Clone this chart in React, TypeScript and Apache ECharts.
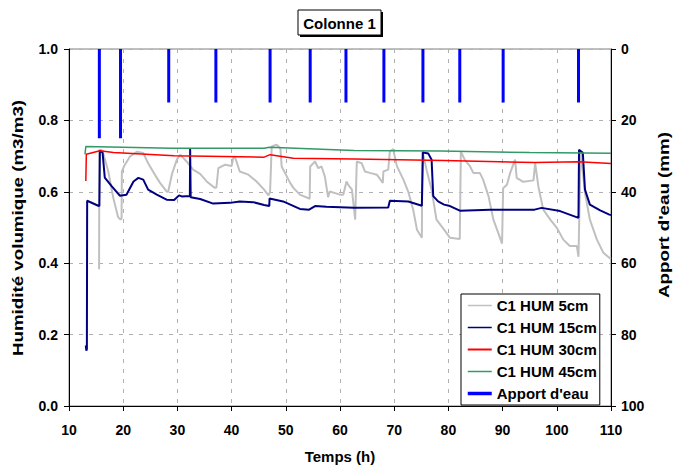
import React, { useEffect, useRef } from "react";
import * as echarts from "echarts";

// Rain events (time in h, amount in mm)
const rainTimes = [15.6, 19.5, 28.4, 37.1, 47.1, 54.5, 61.1, 68.1, 75.3, 82.1, 90.1, 104.0];
const rainAmounts = [25, 25, 15, 15, 15, 15, 15, 15, 15, 15, 15, 15];

// C1 HUM 5cm  [time h, m3/m3]
const hum5: [number, number][] = [
  [15.55, 0.383], [15.6, 0.718], [16.2, 0.715], [17.25, 0.657], [18.17, 0.583], [19.04, 0.53],
  [19.5, 0.522], [19.7, 0.525], [19.75, 0.657], [20.3, 0.676], [21.25, 0.699], [22.5, 0.712],
  [23.7, 0.709], [24.6, 0.68], [26.2, 0.639], [26.8, 0.625], [28.0, 0.601], [28.3, 0.6],
  [29.0, 0.65], [29.9, 0.69], [30.5, 0.704], [31.7, 0.685], [32.9, 0.662], [34.2, 0.65],
  [35.4, 0.629], [36.9, 0.611], [37.2, 0.612], [37.55, 0.666], [38.8, 0.676], [40.0, 0.672],
  [40.3, 0.694], [40.6, 0.699], [41.5, 0.657], [43.1, 0.648], [44.6, 0.629], [46.0, 0.606],
  [46.8, 0.59], [47.1, 0.6], [47.4, 0.727], [48.3, 0.732], [49.0, 0.722], [49.24, 0.671],
  [50.8, 0.625], [51.4, 0.611], [52.6, 0.592], [54.2, 0.582], [54.4, 0.58], [54.5, 0.671],
  [55.4, 0.685], [56.0, 0.666], [56.6, 0.671], [57.2, 0.643], [57.8, 0.585], [58.1, 0.601],
  [60.0, 0.592], [60.6, 0.592], [61.2, 0.629], [61.5, 0.62], [62.2, 0.606], [62.8, 0.522],
  [63.1, 0.685], [64.0, 0.68], [64.6, 0.657], [65.5, 0.653], [66.8, 0.648], [67.9, 0.625],
  [68.0, 0.657], [68.9, 0.662], [69.2, 0.713], [69.8, 0.72], [70.5, 0.672], [71.7, 0.634],
  [72.6, 0.6], [73.5, 0.55], [74.2, 0.494], [75.1, 0.471], [75.2, 0.715], [76.0, 0.66],
  [76.9, 0.606], [77.8, 0.522], [79.2, 0.494], [80.3, 0.471], [82.1, 0.468], [82.3, 0.713],
  [83.0, 0.69], [84.0, 0.671], [84.6, 0.653], [85.8, 0.653], [86.4, 0.634], [87.4, 0.588],
  [88.3, 0.522], [89.2, 0.485], [89.9, 0.455], [90.1, 0.61], [90.8, 0.62], [91.4, 0.653],
  [92.3, 0.69], [92.6, 0.639], [93.8, 0.628], [95.7, 0.632], [96.0, 0.68], [96.6, 0.615],
  [97.5, 0.55], [98.8, 0.522], [100.0, 0.499], [101.2, 0.466], [102.4, 0.448], [103.7, 0.448],
  [104.0, 0.418], [104.4, 0.715], [105.2, 0.597], [106.1, 0.522], [107.4, 0.466], [108.6, 0.429],
  [109.7, 0.415], [110.0, 0.412],
];

// C1 HUM 15cm
const hum15: [number, number][] = [
  [13.1, 0.17], [13.2, 0.155], [13.3, 0.16], [13.35, 0.575], [15.4, 0.561], [15.6, 0.56],
  [15.7, 0.716], [16.2, 0.709], [16.6, 0.64], [17.9, 0.615], [19.4, 0.589], [20.6, 0.592],
  [21.9, 0.629], [22.8, 0.639], [23.7, 0.634], [24.6, 0.606], [26.2, 0.592], [28.0, 0.578],
  [29.4, 0.577], [30.3, 0.59], [30.8, 0.587], [32.3, 0.588], [32.35, 0.72], [32.45, 0.585],
  [34.2, 0.58], [36.6, 0.567], [39.7, 0.569], [41.5, 0.573], [44.0, 0.571], [46.0, 0.563],
  [46.96, 0.56], [47.0, 0.581], [49.5, 0.573], [52.6, 0.552], [54.3, 0.55], [55.4, 0.56],
  [57.5, 0.558], [62.6, 0.555], [68.9, 0.556], [69.2, 0.575], [72.6, 0.573], [75.1, 0.561],
  [75.3, 0.71], [76.3, 0.707], [76.9, 0.69], [77.2, 0.588], [78.1, 0.573], [79.2, 0.564],
  [80.3, 0.56], [82.1, 0.547], [87.7, 0.55], [95.9, 0.55], [97.2, 0.555], [100.6, 0.546],
  [104.0, 0.527], [104.1, 0.718], [104.8, 0.709], [105.2, 0.606], [106.1, 0.564], [108.0, 0.548],
  [109.7, 0.536], [110.0, 0.535],
];

// C1 HUM 30cm
const hum30: [number, number][] = [
  [13.1, 0.63], [13.2, 0.705], [15.7, 0.715], [18.2, 0.71], [29.4, 0.701], [46.0, 0.697],
  [47.1, 0.704], [51.4, 0.694], [62.6, 0.692], [79.2, 0.688], [95.9, 0.682], [104.1, 0.684],
  [110.0, 0.679],
];

// C1 HUM 45cm
const hum45: [number, number][] = [
  [12.95, 0.705], [13.1, 0.727], [29.0, 0.722], [46.0, 0.722], [47.0, 0.725], [62.6, 0.716],
  [78.5, 0.714], [95.0, 0.71], [110.0, 0.708],
];

const seriesNames = ["C1 HUM 5cm", "C1 HUM 15cm", "C1 HUM 30cm", "C1 HUM 45cm", "Apport d'eau"];
const seriesColors = ["#c0c0c0", "#000080", "#ff0000", "#339966", "#0000ff"];
const titleText = "Colonne 1";
const xTitle = "Temps (h)";
const yLeftTitle = "Humidité volumique (m3/m3)";
const yRightTitle = "Apport d'eau (mm)";

const FONT = '"Liberation Sans", Arial, sans-serif';

export default function App() {
  const ref = useRef<HTMLDivElement>(null);
  useEffect(() => {
    if (!ref.current) return;
    const chart = echarts.init(ref.current, undefined, { renderer: "svg" });

    const rainData: any[] = [];
    rainTimes.forEach((t, i) => {
      rainData.push([t, 0], [t, rainAmounts[i]], [t, "-"]);
    });

    const lineSeries = (name: string, data: any[], color: string, width: number) => ({
      name,
      type: "line",
      data,
      symbol: "none",
      showSymbol: false,
      lineStyle: { color, width },
      itemStyle: { color },
      yAxisIndex: 0,
    });

    const titleStyle = {
      fontSize: 15,
      fontWeight: "bold",
      fontFamily: FONT,
      fill: "#000",
      align: "center",
      verticalAlign: "middle",
    };

    const legendWidths = [1.5, 1.5, 2, 1.5, 3.5];

    const option: any = {
      animation: false,
      backgroundColor: "#ffffff",
      textStyle: { fontFamily: FONT },
      grid: {
        left: 69,
        right: 64,
        top: 49,
        bottom: 62,
        show: true,
        borderColor: "#808080",
        borderWidth: 1,
        backgroundColor: "transparent",
      },
      graphic: [
        { type: "rect", shape: { x: 300, y: 12, width: 83, height: 25 }, style: { fill: "#000" } },
        {
          type: "rect",
          shape: { x: 298, y: 10, width: 83, height: 25 },
          style: { fill: "#fff", stroke: "#000", lineWidth: 1 },
        },
        { type: "text", x: 339.5, y: 23, style: { ...titleStyle, text: titleText } },
        {
          type: "text",
          x: 18,
          y: 228,
          rotation: Math.PI / 2,
          scaleX: 1.25,
          style: { ...titleStyle, text: yLeftTitle },
        },
        {
          type: "text",
          x: 664,
          y: 215,
          rotation: Math.PI / 2,
          scaleX: 1.25,
          style: { ...titleStyle, text: yRightTitle },
        },
      ],
      legend: {
        orient: "vertical",
        left: 461,
        top: 294,
        padding: [4, 3, 4, 5],
        itemGap: 7,
        itemWidth: 24,
        itemHeight: 14,
        backgroundColor: "#fff",
        borderColor: "#000",
        borderWidth: 1,
        itemStyle: { opacity: 0 },
        textStyle: { fontSize: 15, fontWeight: "bold", color: "#000", fontFamily: FONT },
        data: seriesNames.map((name, i) => ({
          name,
          lineStyle: { color: seriesColors[i], width: legendWidths[i] },
        })),
      },
      xAxis: {
        type: "value",
        min: 10,
        max: 110,
        interval: 10,
        name: xTitle,
        nameLocation: "middle",
        nameGap: 43,
        nameTextStyle: { fontSize: 15, fontWeight: "bold", color: "#000", fontFamily: FONT },
        axisLine: { show: true, onZero: false, lineStyle: { color: "#000", width: 1 } },
        axisTick: { show: true, inside: false, length: 5, lineStyle: { color: "#000" } },
        axisLabel: { fontSize: 14, fontWeight: "bold", color: "#000", margin: 17, fontFamily: FONT },
        splitLine: { show: true, lineStyle: { color: "#b0b0b0", type: [4, 6], width: 1 } },
      },
      yAxis: [
        {
          type: "value",
          min: 0,
          max: 1,
          interval: 0.2,
          position: "left",
          axisLine: { show: true, lineStyle: { color: "#000", width: 1 } },
          axisTick: { show: true, inside: false, length: 5, lineStyle: { color: "#000" } },
          axisLabel: {
            fontSize: 14,
            fontWeight: "bold",
            color: "#000",
            margin: 11,
            fontFamily: FONT,
            formatter: (v: number) => v.toFixed(1),
          },
          splitLine: { show: true, lineStyle: { color: "#b0b0b0", type: [4, 6], width: 1 } },
        },
        {
          type: "value",
          min: 0,
          max: 100,
          interval: 20,
          inverse: true,
          position: "right",
          axisLine: { show: true, lineStyle: { color: "#000", width: 1 } },
          axisTick: { show: true, inside: false, length: 5, lineStyle: { color: "#000" } },
          axisLabel: { fontSize: 14, fontWeight: "bold", color: "#000", margin: 10, fontFamily: FONT },
          splitLine: { show: false },
        },
      ],
      series: [
        lineSeries(seriesNames[0], hum5, seriesColors[0], 2),
        lineSeries(seriesNames[1], hum15, seriesColors[1], 2),
        lineSeries(seriesNames[2], hum30, seriesColors[2], 1.5),
        lineSeries(seriesNames[3], hum45, seriesColors[3], 1.5),
        {
          name: seriesNames[4],
          type: "line",
          yAxisIndex: 1,
          data: rainData,
          symbol: "none",
          showSymbol: false,
          connectNulls: false,
          lineStyle: { color: seriesColors[4], width: 3 },
          itemStyle: { color: seriesColors[4] },
        },
      ],
    };

    chart.setOption(option);
    return () => chart.dispose();
  }, []);

  return (
    <div
      ref={ref}
      style={{ position: "fixed", left: 0, top: 0, width: 675, height: 469, background: "#fff" }}
    />
  );
}
